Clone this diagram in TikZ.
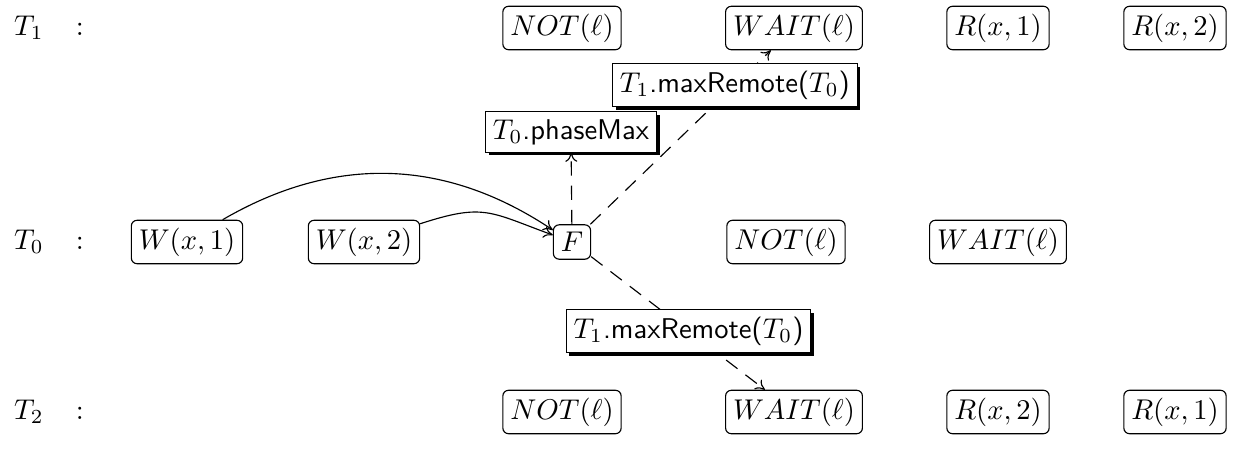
\documentclass[tikz,border=0pt]{standalone}
\usetikzlibrary{shadows,arrows.meta}
\begin{document}
\begin{tikzpicture}[x=0.35pt,y=0.35pt,>={To[length=3.2pt,width=4.2pt]},
  ev/.style={draw, solid, rounded corners=2pt, inner sep=2.6pt},
  lbl/.style={draw, solid, fill=white, inner sep=2.6pt,
    drop shadow={shadow xshift=1.1pt, shadow yshift=-1.1pt, fill=black, opacity=1}},
  dsh/.style={->, dash pattern=on 5pt off 3.5pt},
  thr/.style={anchor=west}]
\useasboundingbox (0,0) rectangle (1247,455);

% thread labels
\node[thr] (l1) at (4,427) {$T_1\hspace{8.5pt}:$};
\node[thr] (l0) at (4,213) {$T_0\hspace{8.5pt}:$};
\node[thr] (l2) at (4,43)  {$T_2\hspace{8.5pt}:$};

% thread T1
\node[ev] (a1) at (562,427)  {$NOT(\ell)$};
\node[ev] (a2) at (794,427)  {$WAIT(\ell)$};
\node[ev] (a3) at (998,427)  {$R(x,1)$};
\node[ev] (a4) at (1175,427) {$R(x,2)$};

% thread T0
\node[ev] (b1) at (187,213) {$W(x,1)$};
\node[ev] (b2) at (364,213) {$W(x,2)$};
\node[ev] (f)  at (572,213) {$F$};
\node[ev] (b4) at (786,213) {$NOT(\ell)$};
\node[ev] (b5) at (998,213) {$WAIT(\ell)$};

% thread T2
\node[ev] (c1) at (562,43)  {$NOT(\ell)$};
\node[ev] (c2) at (794,43)  {$WAIT(\ell)$};
\node[ev] (c3) at (998,43)  {$R(x,2)$};
\node[ev] (c4) at (1175,43) {$R(x,1)$};

% fence phase
\node[lbl] (pm) at (571,323) {\textsf{$T_0$.phaseMax}};

% connectors
\draw[->] (b1) to[bend left=32] (f);
\draw[->] (b2) to[out=18,in=160,looseness=1.3] (f);
\draw[dsh] (f) -- (pm);
\draw[dsh] (f) -- node[lbl,pos=0.8] (r1) {\textsf{$T_1$.maxRemote($T_0$)}} (a2);
\draw[dsh] (f) -- node[lbl,pos=0.56] (r2) {\textsf{$T_1$.maxRemote($T_0$)}} (c2);
\end{tikzpicture}
\end{document}
